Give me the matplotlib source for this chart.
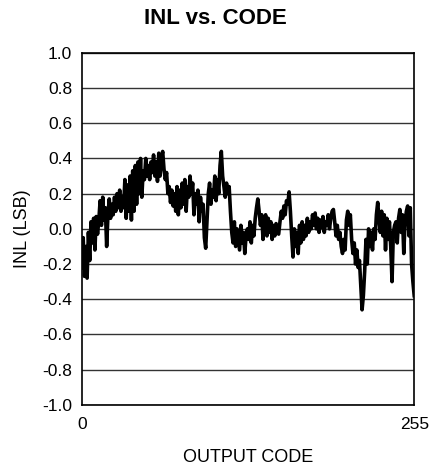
import numpy as np
import matplotlib
matplotlib.use('Agg')
import matplotlib.pyplot as plt

# INL, un valor por codigo (0..255)
inl = [
    -0.22, -0.05, -0.27, -0.10, -0.28, -0.02, -0.18, 0.04, -0.08, 0.06, -0.12, 0.07, -0.03, 0.05, 0.16, 0.02,
    0.18, 0.05, 0.12, -0.10, 0.08, 0.17, 0.06, 0.14, 0.08, 0.18, 0.10, 0.20, 0.12, 0.22, 0.10, 0.18,
    0.12, 0.28, 0.06, 0.25, 0.10, 0.30, 0.05, 0.33, 0.10, 0.36, 0.14, 0.38, 0.20, 0.40, 0.18, 0.33,
    0.28, 0.40, 0.30, 0.36, 0.28, 0.38, 0.32, 0.42, 0.30, 0.38, 0.27, 0.43, 0.30, 0.40, 0.44, 0.34,
    0.28, 0.32, 0.20, 0.24, 0.15, 0.22, 0.13, 0.20, 0.10, 0.24, 0.08, 0.22, 0.12, 0.26, 0.14, 0.28,
    0.10, 0.24, 0.18, 0.30, 0.20, 0.26, 0.08, 0.20, 0.14, 0.22, 0.04, 0.18, 0.10, 0.14, -0.05, -0.11,
    0.05, 0.20, 0.26, 0.14, 0.22, 0.18, 0.30, 0.16, 0.28, 0.20, 0.36, 0.44, 0.30, 0.24, 0.18, 0.26,
    0.20, 0.24, 0.10, -0.02, -0.08, 0.04, -0.10, 0.00, -0.06, -0.12, 0.02, -0.08, -0.02, -0.14, -0.04, 0.00,
    -0.06, 0.04, -0.08, 0.02, -0.04, 0.06, 0.12, 0.17, 0.10, 0.02, 0.08, -0.06, 0.04, 0.08, -0.04, 0.06,
    -0.02, 0.04, -0.06, 0.02, -0.04, 0.03, 0.00, -0.03, 0.04, 0.10, 0.06, 0.13, 0.08, 0.16, 0.14, 0.21,
    0.10, -0.04, -0.16, 0.00, -0.10, -0.02, -0.14, 0.02, -0.08, 0.04, -0.06, 0.02, -0.04, 0.06, -0.02, 0.04,
    0.00, 0.08, 0.02, 0.09, 0.00, 0.06, -0.02, 0.05, 0.01, 0.07, -0.02, 0.04, 0.02, 0.08, 0.00, 0.06,
    0.10, 0.11, 0.04, -0.04, 0.02, -0.06, -0.02, -0.10, -0.14, -0.06, -0.12, 0.05, 0.10, 0.02, 0.08, -0.06,
    -0.14, -0.08, -0.20, -0.12, -0.22, -0.18, -0.32, -0.46, -0.38, -0.24, -0.06, -0.20, 0.00, -0.10, -0.02, -0.12,
    0.00, -0.06, 0.08, 0.15, 0.06, -0.02, 0.10, -0.04, 0.08, -0.12, 0.06, -0.06, 0.04, -0.10, -0.30, -0.02,
    0.02, 0.04, -0.08, 0.06, 0.11, -0.02, 0.08, -0.14, 0.04, 0.10, 0.13, -0.04, 0.12, -0.20, -0.30, -0.38,
]
codigos = np.arange(len(inl))

yticks = [1.0, 0.8, 0.6, 0.4, 0.2, 0.0, -0.2, -0.4, -0.6, -0.8, -1.0]
xticks = [0, 255]

plt.rcParams['font.family'] = ['Liberation Sans', 'DejaVu Sans']

fig = plt.figure(figsize=(4.31, 4.68), dpi=100)
ax = fig.add_axes([0.190, 0.135, 0.771, 0.752])

for yt in yticks:
    ax.axhline(yt, color='#333333', lw=1.0, zorder=1)

ax.plot(codigos, inl, color='black', lw=2.6, zorder=3)

ax.set_xlim(0, 255)
ax.set_ylim(-1.0, 1.0)
ax.set_yticks(yticks)
ax.set_yticklabels(['%.1f' % v for v in yticks])
ax.set_xticks(xticks)
ax.tick_params(length=0, labelsize=12.5)
ax.tick_params(axis='y', pad=7)
ax.tick_params(axis='x', pad=9)
for s in ax.spines.values():
    s.set_linewidth(1.2)
    s.set_color('black')

fig.text(0.5, 0.96, 'INL vs. CODE', ha='center', va='center', fontsize=16, fontweight='bold')
ax.set_xlabel('OUTPUT CODE', fontsize=13, labelpad=12)
ax.set_ylabel('INL (LSB)', fontsize=13, labelpad=8)

plt.savefig('out.png', dpi=100)
